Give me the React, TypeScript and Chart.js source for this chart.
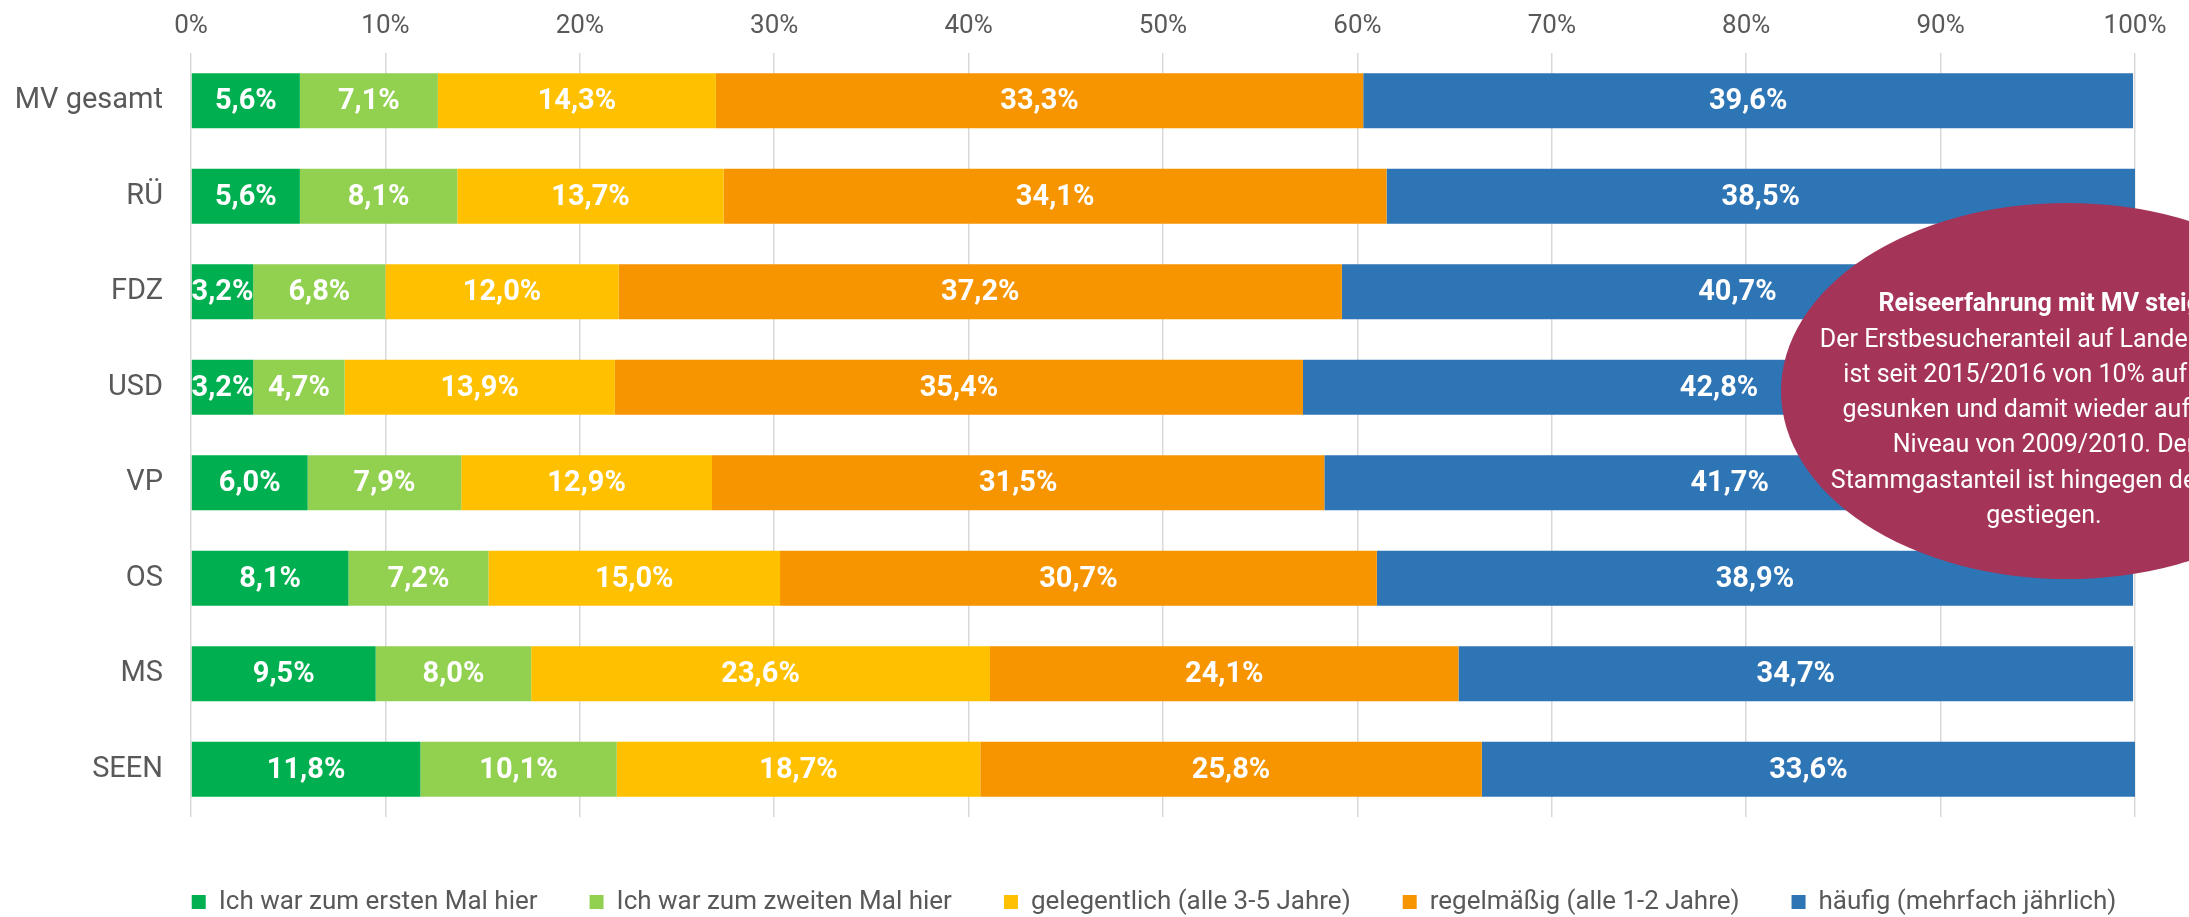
import React, { useEffect, useRef } from 'react';
import { Chart, registerables } from 'chart.js';

Chart.register(...registerables);

const categories = ['MV gesamt', 'RÜ', 'FDZ', 'USD', 'VP', 'OS', 'MS', 'SEEN'];

const seriesNames = [
  'Ich war zum ersten Mal hier',
  'Ich war zum zweiten Mal hier',
  'gelegentlich (alle 3-5 Jahre)',
  'regelmäßig (alle 1-2 Jahre)',
  'häufig (mehrfach jährlich)',
];

const firstVisit = [5.6, 5.6, 3.2, 3.2, 6.0, 8.1, 9.5, 11.8];
const secondVisit = [7.1, 8.1, 6.8, 4.7, 7.9, 7.2, 8.0, 10.1];
const occasional = [14.3, 13.7, 12.0, 13.9, 12.9, 15.0, 23.6, 18.7];
const regular = [33.3, 34.1, 37.2, 35.4, 31.5, 30.7, 24.1, 25.8];
const frequent = [39.6, 38.5, 40.7, 42.8, 41.7, 38.9, 34.7, 33.6];

const seriesColors = ['#00B050', '#92D050', '#FFC000', '#F79500', '#2E75B6'];

const xMin = 0;
const xMax = 100;
const xStep = 10;

const calloutTitle = 'Reiseerfahrung mit MV steigt';
const calloutLines = [
  'Der Erstbesucheranteil auf Landesebene',
  'ist seit 2015/2016 von 10% auf 5,6%',
  'gesunken und damit wieder auf dem',
  'Niveau von 2009/2010. Der',
  'Stammgastanteil ist hingegen deutlich',
  'gestiegen.',
];

const FONT = 'Roboto, "Noto Sans", "DejaVu Sans", sans-serif';
const W = 2189;
const H = 917;

const dataLabelPlugin = {
  id: 'dataLabels',
  afterDatasetsDraw(chart: any) {
    const ctx = chart.ctx;
    ctx.save();
    ctx.font = `bold 29px ${FONT}`;
    ctx.fillStyle = '#FFFFFF';
    ctx.textAlign = 'center';
    ctx.textBaseline = 'middle';
    chart.data.datasets.forEach((ds: any, di: number) => {
      const meta = chart.getDatasetMeta(di);
      meta.data.forEach((el: any, i: number) => {
        const v = ds.data[i];
        const cx = (el.x + el.base) / 2;
        const txt = v.toFixed(1).replace('.', ',') + '%';
        ctx.fillText(txt, cx, el.y + 1);
      });
    });
    ctx.restore();
  },
};

const legendShiftPlugin = {
  id: 'legendShift',
  afterLayout(chart: any) {
    const lg = chart.legend;
    if (!lg || !lg.lineWidths) return;
    const pad = lg.options.labels.padding;
    const start = (lg.left + pad + lg.right - lg.lineWidths[0]) / 2;
    const span = lg.lineWidths[0] - pad;
    const dx = 1154 - (start + span / 2);
    const dy = 902 - (lg.top + pad + 13);
    lg.left += dx;
    lg.right += dx;
    lg.top += dy;
    lg.bottom += dy;
  },
};

const calloutPlugin = {
  id: 'callout',
  afterDraw(chart: any) {
    const ctx = chart.ctx;
    ctx.save();
    ctx.beginPath();
    ctx.ellipse(2067, 391, 286, 188, 0, 0, Math.PI * 2);
    ctx.fillStyle = '#A43458';
    ctx.fill();
    ctx.fillStyle = '#FFFFFF';
    ctx.textAlign = 'center';
    ctx.textBaseline = 'middle';
    const cx = 2044;
    let y = 305;
    ctx.font = `bold 25px ${FONT}`;
    ctx.fillText(calloutTitle, cx, y);
    ctx.font = `25px ${FONT}`;
    calloutLines.forEach((line) => {
      y += 35.3;
      ctx.fillText(line, cx, y);
    });
    ctx.restore();
  },
};

export default function App() {
  const canvasRef = useRef<HTMLCanvasElement | null>(null);

  useEffect(() => {
    if (!canvasRef.current) return;
    const values = [firstVisit, secondVisit, occasional, regular, frequent];
    const chart = new Chart(canvasRef.current, {
      type: 'bar',
      data: {
        labels: categories,
        datasets: seriesNames.map((name, i) => ({
          label: name,
          data: values[i],
          backgroundColor: seriesColors[i],
          borderWidth: 0,
          barPercentage: 0.576,
          categoryPercentage: 1,
        })),
      },
      options: {
        indexAxis: 'y',
        responsive: false,
        animation: false,
        devicePixelRatio: 1,
        layout: { padding: { top: 9, right: 54, bottom: 12, left: 0 } },
        plugins: {
          tooltip: { enabled: false },
          title: { display: false },
          legend: {
            display: true,
            position: 'bottom',
            labels: {
              boxWidth: 14,
              boxHeight: 14,
              padding: 52,
              color: '#595959',
              font: { family: FONT, size: 26 },
            },
          },
        },
        scales: {
          x: {
            type: 'linear',
            position: 'top',
            stacked: true,
            min: xMin,
            max: xMax,
            grid: { color: '#D9D9D9', lineWidth: 1.5, drawTicks: false },
            border: { display: false },
            ticks: {
              stepSize: xStep,
              padding: 11,
              color: '#595959',
              font: { family: FONT, size: 26 },
              callback: (v: any) => v + '%',
            },
            afterFit: (scale: any) => {
              scale.height = 44;
            },
          },
          y: {
            type: 'category',
            stacked: true,
            grid: { display: false, drawTicks: false },
            border: { display: false },
            ticks: {
              padding: 28,
              color: '#595959',
              font: { family: FONT, size: 29 },
            },
            afterFit: (scale: any) => {
              scale.width = 191;
            },
          },
        },
      },
      plugins: [dataLabelPlugin, legendShiftPlugin, calloutPlugin],
    } as any);
    return () => chart.destroy();
  }, []);

  return (
    <div style={{ position: 'fixed', left: 0, top: 0, width: W, height: H, background: '#FFFFFF' }}>
      <canvas ref={canvasRef} width={W} height={H} style={{ width: W, height: H, display: 'block' }} />
    </div>
  );
}
